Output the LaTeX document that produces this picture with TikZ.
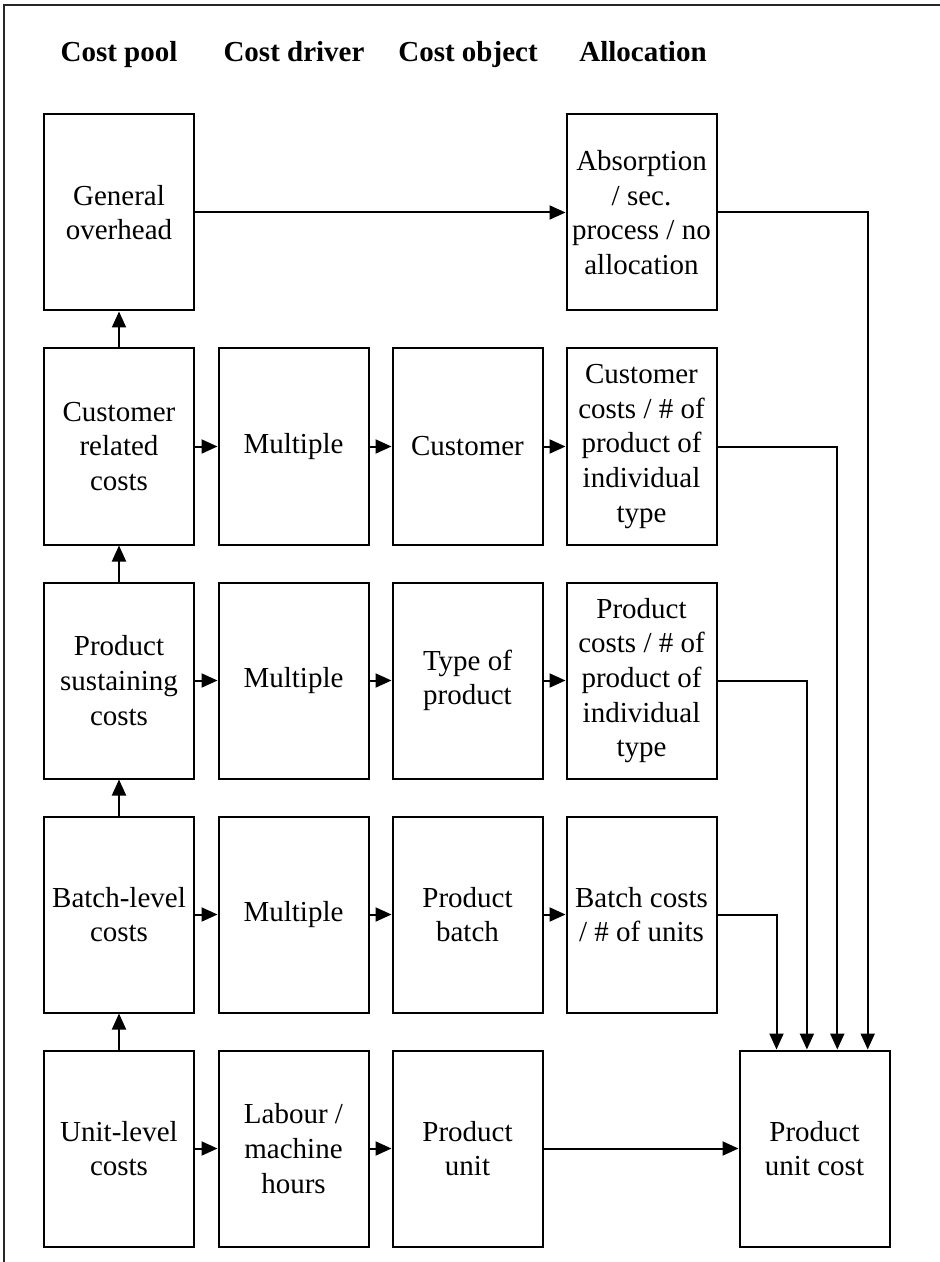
\documentclass[tikz,border=0pt]{standalone}
\usepackage{fontspec}
\setmainfont{Liberation Serif}
\usetikzlibrary{arrows.meta,calc}
\begin{document}
\begin{tikzpicture}[x=0.5pt,y=-0.5pt,
  box/.style={draw,line width=1pt,minimum width=75pt,minimum height=98pt,align=center,inner sep=1pt,
    font=\fontsize{14.5}{17.3}\selectfont},
  hdr/.style={anchor=base,font=\fontsize{14.5}{17.3}\selectfont\bfseries},
  arr/.style={line width=1pt,-{Triangle[length=8pt,width=7pt]}}]
\useasboundingbox (0,0) rectangle (940,1262);
\draw[line width=1pt,black!85] (4,1262) -- (4,5) -- (940,5);
% headers
\node[hdr] (h1) at (119,62) {Cost pool};
\node[hdr] (h2) at (294,62) {Cost driver};
\node[hdr] (h3) at (468,62) {Cost object};
\node[hdr] (h4) at (643,62) {Allocation};
% row 1
\node[box] (a1) at (119,212.5) {General\\overhead};
\node[box] (a4) at (641.5,212.5) {Absorption\\/ sec.\\process / no\\allocation};
% row 2
\node[box] (b1) at (119,446.5) {Customer\\related\\costs};
\node[box] (b2) at (293.5,446.5) {Multiple};
\node[box] (b3) at (467.5,446.5) {Customer};
\node[box] (b4) at (641.5,446.5) {Customer\\costs / \# of\\product of\\individual\\type};
% row 3
\node[box] (c1) at (119,680.5) {Product\\sustaining\\costs};
\node[box] (c2) at (293.5,680.5) {Multiple};
\node[box] (c3) at (467.5,680.5) {Type of\\product};
\node[box] (c4) at (641.5,680.5) {Product\\costs / \# of\\product of\\individual\\type};
% row 4
\node[box] (d1) at (119,914.5) {Batch-level\\costs};
\node[box] (d2) at (293.5,914.5) {Multiple};
\node[box] (d3) at (467.5,914.5) {Product\\batch};
\node[box] (d4) at (641.5,914.5) {Batch costs\\/ \# of units};
% row 5
\node[box] (e1) at (119,1148.5) {Unit-level\\costs};
\node[box] (e2) at (293.5,1148.5) {Labour /\\machine\\hours};
\node[box] (e3) at (467.5,1148.5) {Product\\unit};
\node[box] (puc) at (814.5,1148.5) {Product\\unit cost};
% vertical arrows column 1
\draw[arr] (b1) -- (a1);
\draw[arr] (c1) -- (b1);
\draw[arr] (d1) -- (c1);
\draw[arr] (e1) -- (d1);
% horizontal arrows
\draw[arr] (a1) -- (a4);
\foreach \r in {b,c,d,e}{
  \draw[arr] (\r1) -- (\r2);
  \draw[arr] (\r2) -- (\r3);
}
\foreach \r in {b,c,d}{
  \draw[arr] (\r3) -- (\r4);
}
\draw[arr] (e3) -- (puc);
% to product unit cost
\coordinate (p1) at ($(puc.north west)!0.25!(puc.north east)$);
\coordinate (p2) at ($(puc.north west)!0.45!(puc.north east)$);
\coordinate (p3) at ($(puc.north west)!0.65!(puc.north east)$);
\coordinate (p4) at ($(puc.north west)!0.85!(puc.north east)$);
\draw[arr] (d4.east) -| (p1);
\draw[arr] (c4.east) -| (p2);
\draw[arr] (b4.east) -| (p3);
\draw[arr] (a4.east) -| (p4);
\end{tikzpicture}
\end{document}
